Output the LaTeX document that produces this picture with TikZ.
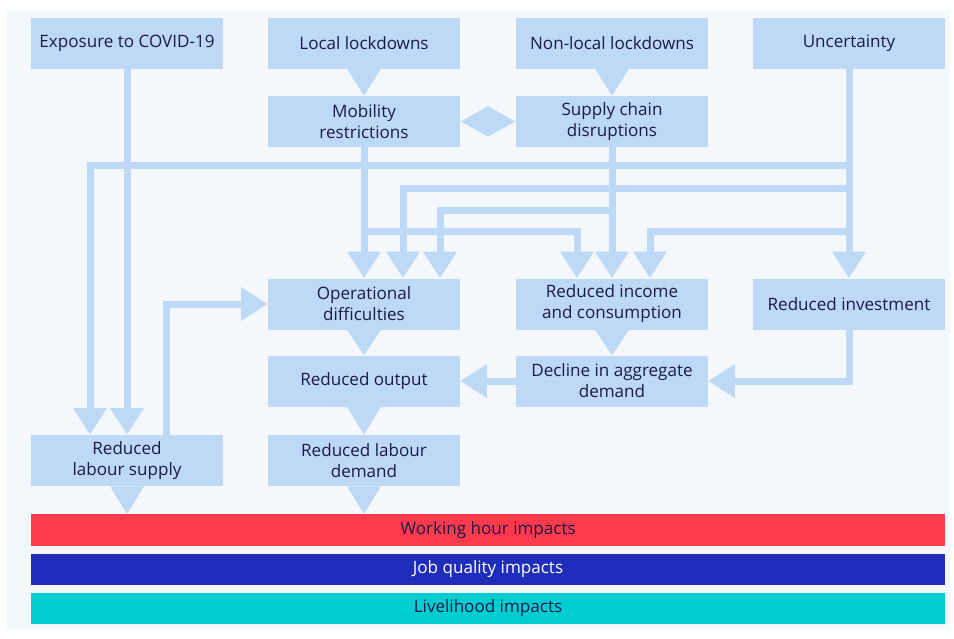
\documentclass[tikz,border=0pt]{standalone}
\usepackage{fontspec}
\setmainfont{Open Sans}
\usetikzlibrary{shapes,arrows.meta}

\definecolor{paleblue}{HTML}{BDD9F5}
\definecolor{inkblue}{HTML}{1B1B4A}
\definecolor{pagebg}{HTML}{F4F8FC}
\definecolor{hourred}{HTML}{FF3A4C}
\definecolor{qualblue}{HTML}{1F2DBA}
\definecolor{liveteal}{HTML}{00CDCF}

\begin{document}
\begin{tikzpicture}[x=0.75pt,y=-0.75pt,line join=miter]
\tikzstyle{box}=[rectangle,fill=paleblue,text=inkblue,align=center,minimum width=144pt,minimum height=38.25pt,inner sep=0pt,font=\fontsize{12.8}{15.8}\selectfont]
\tikzstyle{band}=[rectangle,fill=#1,text=inkblue,minimum width=685.5pt,minimum height=23.6pt,inner sep=0pt,font=\fontsize{12.8}{14}\selectfont]
\tikzstyle{flow}=[draw=paleblue,line width=5.25pt,-{Triangle[width=24pt,length=20pt]}]
\tikzstyle{tab}=[fill=paleblue]

\fill[white] (0,0) rectangle (954,639);
\useasboundingbox (0,0) rectangle (954,639);
\fill[pagebg] (7,10) rectangle (950,630);

\node[box](expo) at (127,43) {Exposure to COVID-19};
\node[box](local) at (364,43) {Local lockdowns};
\node[box](nonlocal) at (612,43) {Non-local lockdowns};
\node[box](unc) at (849,43) {Uncertainty};
\node[box](mob) at (364,121.5) {Mobility\\restrictions};
\node[box](sup) at (612,121.5) {Supply chain\\disruptions};
\node[diamond,fill=paleblue,inner sep=0pt,minimum width=41pt,minimum height=23pt](link) at (488,121.5) {};
\node[box](ops) at (364,304) {Operational\\difficulties};
\node[box](inc) at (612,304) {Reduced income\\and consumption};
\node[box](inv) at (849,304) {Reduced investment};
\node[box](out) at (364,381) {Reduced output};
\node[box](agg) at (612,381) {Decline in aggregate\\demand};
\node[box](lsup) at (127,460.5) {Reduced\\labour supply};
\node[box](ldem) at (364,460.5) {Reduced labour\\demand};

\node[band=hourred](hours) at (488,530) {Working hour impacts};
\node[band=qualblue,text=white](quality) at (488,569.5) {Job quality impacts};
\node[band=liveteal](living) at (488,608.5) {Livelihood impacts};

\fill[tab] (local.south) ++(-17,0) -- ++(34,0) -- (mob.north) -- cycle;
\fill[tab] (nonlocal.south) ++(-17,0) -- ++(34,0) -- (sup.north) -- cycle;
\fill[tab] (ops.south) ++(-17,0) -- ++(34,0) -- (out.north) -- cycle;
\fill[tab] (out.south) ++(-17,0) -- ++(34,0) -- (ldem.north) -- cycle;
\fill[tab] (inc.south) ++(-17,0) -- ++(34,0) -- (agg.north) -- cycle;
\fill[tab] (lsup.south) ++(-17,0) -- ++(34,0) -- (lsup.south |- hours.north) -- cycle;
\fill[tab] (ldem.south) ++(-17,0) -- ++(34,0) -- (ldem.south |- hours.north) -- cycle;

\draw[flow] (expo.south) -- (lsup.north);
\draw[flow] (unc.south) |- (90,165) -- (90,165 |- lsup.north);
\draw[flow] (unc.south) |- (403,188) -- (403,188 |- ops.north);
\draw[flow] (unc.south) |- (650,231) -- (650,231 |- inc.north);
\draw[flow] (unc.south) -- (inv.north);
\draw[flow] (sup.south) |- (440,210) -- (440,210 |- ops.north);
\draw[flow] (sup.south) -- (inc.north);
\draw[flow] (mob.south) -- (ops.north);
\draw[flow] (mob.south) |- (577,231) -- (577,231 |- inc.north);
\draw[flow] (166,0 |- lsup.north) |- (ops.west);
\draw[flow] (agg.west) -- (out.east);
\draw[flow] (inv.south) |- (agg.east);
\end{tikzpicture}
\end{document}
